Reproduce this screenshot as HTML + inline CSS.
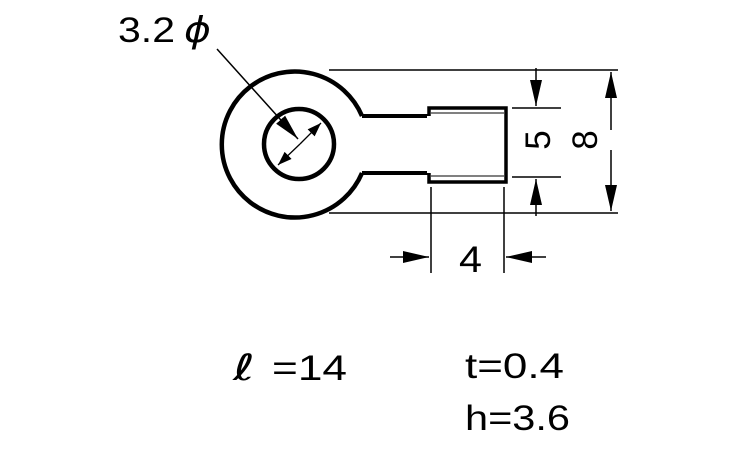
<!DOCTYPE html>
<html><head><style>html,body{margin:0;padding:0;background:#fff;}svg{display:block}</style></head>
<body>
<svg width="750" height="450" viewBox="0 0 750 450" xmlns="http://www.w3.org/2000/svg" font-family="Liberation Sans, sans-serif">
<defs>
<marker id="a" viewBox="0 0 14 10" refX="14" refY="5" markerWidth="14" markerHeight="10" markerUnits="userSpaceOnUse" orient="auto"><path d="M0,0 L14,5 L0,10 z" fill="#000"/></marker>
<marker id="b" viewBox="0 0 26 12" refX="26" refY="6" markerWidth="26" markerHeight="13" markerUnits="userSpaceOnUse" orient="auto"><path d="M0,0 L26,6 L0,12 z" fill="#000"/></marker>
</defs>
<g fill="none" stroke="#000">
<path d="M362,116 A73,73 0 1 0 362,173" stroke-width="4.5"/>
<line x1="362" y1="116" x2="430" y2="116" stroke-width="4"/>
<line x1="362" y1="173" x2="430" y2="173" stroke-width="4"/>
<circle cx="299" cy="144" r="35" stroke-width="4.5"/>
<rect x="429" y="108" width="77" height="74" stroke-width="3.5"/>
<line x1="431" y1="113" x2="504" y2="113" stroke-width="1"/>
<line x1="431" y1="176" x2="504" y2="176" stroke-width="1"/>
<line x1="429" y1="116" x2="429" y2="173" stroke="#fff" stroke-width="4"/>
<line x1="329" y1="70" x2="618" y2="70" stroke-width="1.5"/>
<line x1="329" y1="213" x2="618" y2="213" stroke-width="1.5"/>
<line x1="512" y1="108" x2="561" y2="108" stroke-width="1.5"/>
<line x1="512" y1="177" x2="561" y2="177" stroke-width="1.5"/>
<line x1="431" y1="187" x2="431" y2="273" stroke-width="1.5"/>
<line x1="504" y1="187" x2="504" y2="273" stroke-width="1.5"/>
<line x1="536" y1="68" x2="536" y2="106" stroke-width="1.5" marker-end="url(#b)"/>
<line x1="536" y1="216" x2="536" y2="179" stroke-width="1.5" marker-end="url(#b)"/>
<line x1="611" y1="130" x2="611" y2="72" stroke-width="1.5" marker-end="url(#b)"/>
<line x1="611" y1="150" x2="611" y2="211" stroke-width="1.5" marker-end="url(#b)"/>
<line x1="390" y1="257" x2="429" y2="257" stroke-width="1.5" marker-end="url(#b)"/>
<line x1="546" y1="257" x2="506" y2="257" stroke-width="1.5" marker-end="url(#b)"/>
<line x1="217" y1="49" x2="298" y2="139" stroke-width="1.5" marker-end="url(#b)"/>
<line x1="300" y1="144" x2="321" y2="123" stroke-width="1.3" marker-end="url(#a)"/>
<line x1="300" y1="144" x2="278" y2="165" stroke-width="1.3" marker-end="url(#a)"/>
</g>
<g fill="#000" font-size="35">
<text x="118" y="42" textLength="57" lengthAdjust="spacingAndGlyphs">3.2</text>
<text x="184" y="42" font-style="italic" font-family="DejaVu Sans, sans-serif" font-size="36" textLength="27" lengthAdjust="spacingAndGlyphs">ϕ</text>
<text x="459" y="272" font-size="37" textLength="23" lengthAdjust="spacingAndGlyphs">4</text>
<text transform="translate(538,140) rotate(-90)" text-anchor="middle" y="12">5</text>
<text transform="translate(585,140) rotate(-90)" text-anchor="middle" y="12">8</text>
<text x="233" y="380" font-style="italic" font-family="DejaVu Sans, sans-serif" font-size="36" textLength="22" lengthAdjust="spacingAndGlyphs">ℓ</text>
<text x="272" y="380" textLength="75" lengthAdjust="spacingAndGlyphs">=14</text>
<text x="465" y="378" textLength="99" lengthAdjust="spacingAndGlyphs">t=0.4</text>
<text x="465" y="430" textLength="105" lengthAdjust="spacingAndGlyphs">h=3.6</text>
</g>
</svg>
</body></html>
